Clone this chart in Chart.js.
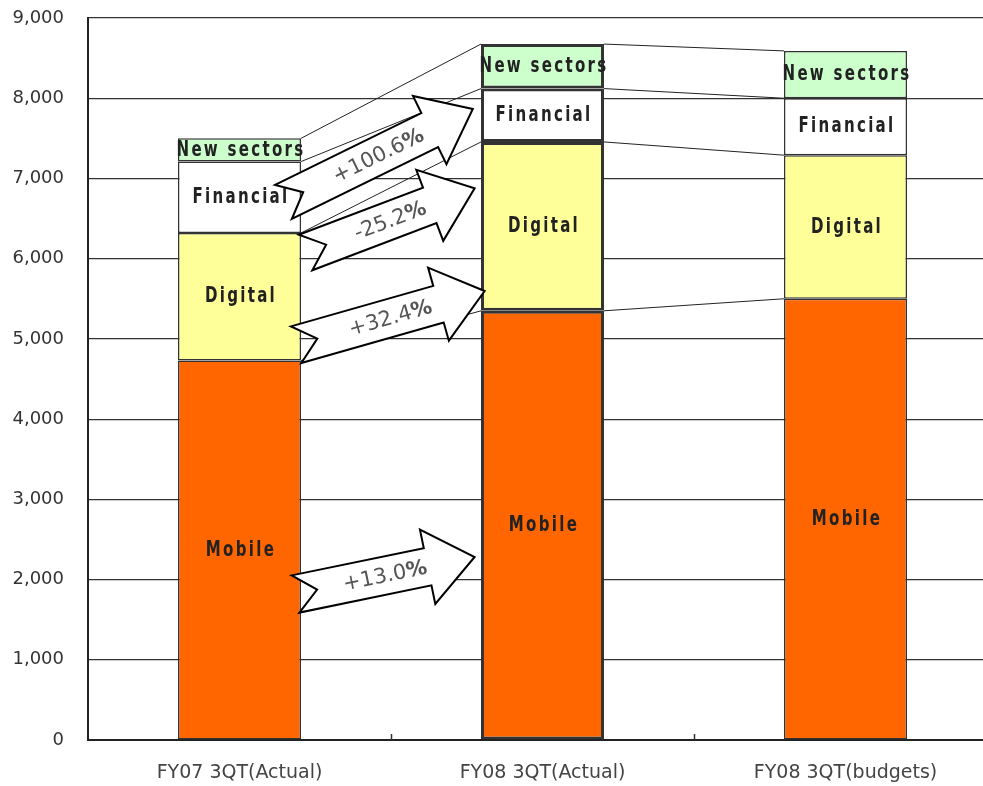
<!DOCTYPE html>
<html>
<head>
<meta charset="utf-8">
<script src="https://cdn.jsdelivr.net/npm/chart.js@4.4.0/dist/chart.umd.min.js"></script>
<style>
    html, body { margin: 0; padding: 0; background: #fff; overflow: hidden; }
    canvas { display: block; }
</style>
</head>
<body>
<canvas id="myChart" width="1000" height="786"></canvas>
<script>
var categories = ['FY07 3QT(Actual)', 'FY08 3QT(Actual)', 'FY08 3QT(budgets)'];
var seriesNames = ['Mobile', 'Digital', 'Financial', 'New sectors'];
var mobile = [4730, 5350, 5500];
var digital = [1590, 2105, 1790];
var financial = [890, 665, 710];
var newSectors = [290, 555, 590];
var seriesColors = ['#ff6600', '#ffff99', '#ffffff', '#ccffcc'];
var yTicks = [0, 1000, 2000, 3000, 4000, 5000, 6000, 7000, 8000, 9000];

// growth arrows, tail and tip given as (category, value)
var arrowLabels = ['+13.0', '+32.4', '-25.2', '+100.6'];
var arrowFromX = [0.185, 0.187, 0.218, 0.145];
var arrowFromY = [1820, 4928, 6077, 6707];
var arrowToX = [0.776, 0.809, 0.776, 0.770];
var arrowToY = [2281, 5597, 6877, 7866];

var values = [mobile, digital, financial, newSectors];

function drawArrow(ctx, x0, y0, x1, y1, label) {
    var dx = x1 - x0, dy = y1 - y0;
    var len = Math.sqrt(dx * dx + dy * dy);
    var sw = 19, hw = 38, hl = 48, notch = 22;
    ctx.save();
    ctx.translate(x0, y0);
    ctx.rotate(Math.atan2(dy, dx));
    ctx.beginPath();
    ctx.moveTo(0, -sw);
    ctx.lineTo(len - hl, -sw);
    ctx.lineTo(len - hl, -hw);
    ctx.lineTo(len, 0);
    ctx.lineTo(len - hl, hw);
    ctx.lineTo(len - hl, sw);
    ctx.lineTo(0, sw);
    ctx.lineTo(notch, 0);
    ctx.closePath();
    ctx.fillStyle = '#fff';
    ctx.fill();
    ctx.lineWidth = 2;
    ctx.lineJoin = 'miter';
    ctx.strokeStyle = '#000';
    ctx.stroke();

    // label: number light, % bold
    ctx.fillStyle = '#555';
    ctx.textBaseline = 'middle';
    ctx.textAlign = 'left';
    var numFont = '21px "DejaVu Sans", sans-serif';
    var pctFont = 'bold 21px "DejaVu Sans", sans-serif';
    ctx.font = numFont;
    var w1 = ctx.measureText(label).width;
    ctx.font = pctFont;
    var w2 = ctx.measureText('%').width;
    var sx = len / 2 - (w1 + w2) / 2;
    ctx.font = numFont;
    ctx.fillText(label, sx, 1);
    ctx.font = pctFont;
    ctx.fillText('%', sx + w1, 1);
    ctx.restore();
}

var overlay = {
    id: 'overlay',
    afterDatasetsDraw: function (chart) {
        var ctx = chart.ctx;
        var xs = chart.scales.x, ys = chart.scales.y, area = chart.chartArea;
        var metas = chart.data.datasets.map(function (d, i) { return chart.getDatasetMeta(i); });

        ctx.save();
        // small ticks between categories
        ctx.strokeStyle = '#333';
        ctx.lineWidth = 1.5;
        for (var i = 0; i < categories.length - 1; i++) {
            var px = Math.round(xs.getPixelForValue(i + 0.5)) + 0.5;
            ctx.beginPath();
            ctx.moveTo(px, area.bottom);
            ctx.lineTo(px, area.bottom - 6);
            ctx.stroke();
        }

        // series lines between bars
        ctx.strokeStyle = '#222';
        ctx.lineWidth = 1;
        for (var i = 0; i < categories.length - 1; i++) {
            metas.forEach(function (m) {
                var a = m.data[i], b = m.data[i + 1];
                ctx.beginPath();
                ctx.moveTo(a.x + a.width / 2, a.y);
                ctx.lineTo(b.x - b.width / 2, b.y);
                ctx.stroke();
            });
        }

        // segment labels
        ctx.fillStyle = '#222';
        ctx.textAlign = 'center';
        ctx.textBaseline = 'middle';
        ctx.font = 'bold 22px "Liberation Sans Narrow", "DejaVu Sans Condensed", sans-serif';
        ctx.letterSpacing = '3px';
        metas.forEach(function (m, d) {
            m.data.forEach(function (el) {
                ctx.save();
                ctx.translate(el.x + 1.5, (el.y + el.base) / 2);
                ctx.scale(0.76, 1);
                ctx.fillText(seriesNames[d], 0, 0);
                ctx.restore();
            });
        });
        ctx.letterSpacing = '0px';

        // growth arrows
        for (var k = 0; k < arrowLabels.length; k++) {
            drawArrow(ctx,
                xs.getPixelForValue(arrowFromX[k]), ys.getPixelForValue(arrowFromY[k]),
                xs.getPixelForValue(arrowToX[k]), ys.getPixelForValue(arrowToY[k]),
                arrowLabels[k]);
        }
        ctx.restore();
    }
};

var context = document.getElementById('myChart').getContext('2d');

var data = {
    labels: categories,
    datasets: seriesNames.map(function (name, i) {
        return {
            label: name,
            data: values[i],
            backgroundColor: seriesColors[i],
            borderColor: '#333',
            borderWidth: function (c) { return c.dataIndex === 1 ? 3 : 1.5; },
            borderSkipped: false,
            barPercentage: 0.406,
            categoryPercentage: 1
        };
    })
};

new Chart(context, {
    type: 'bar',
    data: data,
    plugins: [overlay],
    options: {
        responsive: false,
        animation: false,
        layout: { padding: { top: 18, right: 3, left: 0, bottom: 0 } },
        plugins: {
            legend: { display: false },
            tooltip: { enabled: false }
        },
        scales: {
            x: {
                stacked: true,
                grid: { display: false, drawTicks: false },
                border: { display: true, color: '#222', width: 2 },
                ticks: {
                    color: '#444',
                    padding: 22,
                    font: { family: '"DejaVu Sans", sans-serif', size: 19 }
                },
                afterFit: function (scale) { scale.height = 46; }
            },
            y: {
                stacked: true,
                min: 0,
                max: 9000,
                afterBuildTicks: function (scale) {
                    scale.ticks = yTicks.map(function (v) { return { value: v }; });
                },
                grid: { color: '#333', lineWidth: 1.2, drawTicks: false },
                border: { display: true, color: '#222', width: 2 },
                ticks: {
                    color: '#333',
                    padding: 24,
                    font: { family: '"DejaVu Sans", sans-serif', size: 18 },
                    callback: function (v) { return v.toLocaleString('en-US'); }
                },
                afterFit: function (scale) {
                    scale.width = 88;
                    scale.paddingTop = 0;
                    scale.paddingBottom = 0;
                }
            }
        }
    }
});
</script>
</body>
</html>
